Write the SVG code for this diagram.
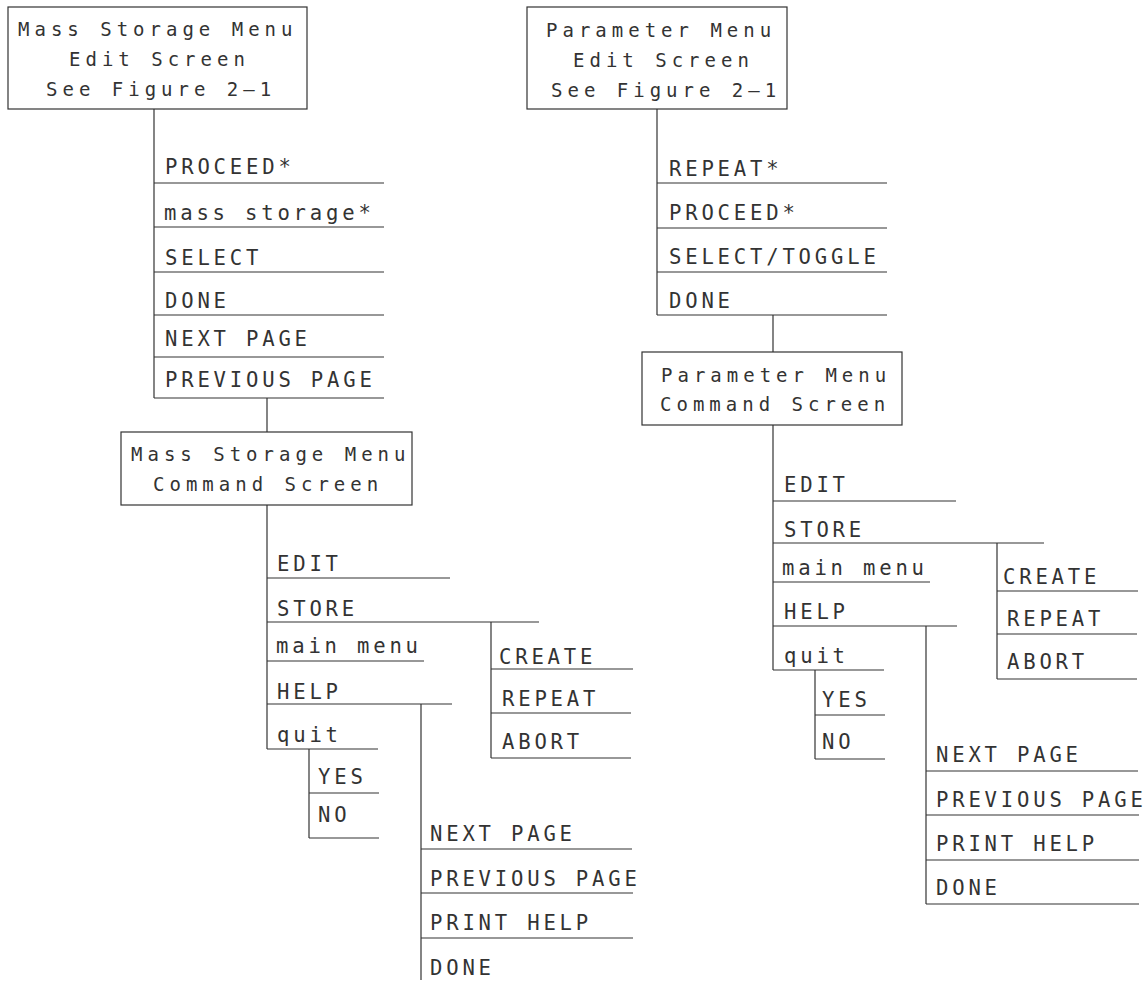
<svg xmlns="http://www.w3.org/2000/svg" width="1148" height="981" viewBox="0 0 1148 981">
<style>
rect.box{fill:none;stroke:#333;stroke-width:1.2}
line{stroke:#333;stroke-width:1.2}
text{font-family:"DejaVu Sans Mono","Liberation Mono",monospace;fill:#333}
.b{font-size:19px;letter-spacing:5px}
.m{font-size:20.6px;letter-spacing:3.8px}
</style>
<rect width="1148" height="981" fill="#fff"/>

<g id="connectors">
<line x1="154" y1="109" x2="154" y2="398"/>
<line x1="267" y1="398" x2="267" y2="432"/>
<line x1="267" y1="505" x2="267" y2="749"/>
<line x1="491" y1="622" x2="491" y2="758"/>
<line x1="309" y1="749" x2="309" y2="838"/>
<line x1="421" y1="704" x2="421" y2="980"/>
<line x1="657" y1="109" x2="657" y2="315"/>
<line x1="773" y1="315" x2="773" y2="352"/>
<line x1="773" y1="425" x2="773" y2="670"/>
<line x1="997" y1="543" x2="997" y2="679"/>
<line x1="815" y1="670" x2="815" y2="759"/>
<line x1="926" y1="626" x2="926" y2="904"/>
</g>

<g id="ms-edit-screen">
<rect class="box" x="8" y="7" width="299" height="102"/>
<text class="b" x="18" y="36">Mass Storage Menu</text>
<text class="b" x="69" y="66">Edit Screen</text>
<text class="b" x="46" y="96">See Figure 2—1</text>
</g>

<g id="ms-edit-menu">
<text class="m" x="165" y="174">PROCEED*</text><line x1="154" y1="183" x2="384" y2="183"/>
<text class="m" x="164" y="220">mass storage*</text><line x1="154" y1="227" x2="384" y2="227"/>
<text class="m" x="165" y="265">SELECT</text><line x1="154" y1="272" x2="384" y2="272"/>
<text class="m" x="165" y="308">DONE</text><line x1="154" y1="315" x2="384" y2="315"/>
<text class="m" x="165" y="346">NEXT PAGE</text><line x1="154" y1="357" x2="384" y2="357"/>
<text class="m" x="165" y="387">PREVIOUS PAGE</text><line x1="154" y1="398" x2="384" y2="398"/>
</g>

<g id="ms-command-screen">
<rect class="box" x="121" y="432" width="291" height="73"/>
<text class="b" x="131" y="461">Mass Storage Menu</text>
<text class="b" x="153" y="491">Command Screen</text>
</g>

<g id="ms-command-menu">
<text class="m" x="277" y="571">EDIT</text><line x1="267" y1="578" x2="450" y2="578"/>
<text class="m" x="277" y="616">STORE</text><line x1="267" y1="622" x2="539" y2="622"/>
<text class="m" x="276" y="653">main menu</text><line x1="267" y1="661" x2="424" y2="661"/>
<text class="m" x="277" y="699">HELP</text><line x1="267" y1="704" x2="452" y2="704"/>
<text class="m" x="277" y="742">quit</text><line x1="267" y1="749" x2="378" y2="749"/>
</g>

<g id="ms-store-menu">
<text class="m" x="499" y="664">CREATE</text><line x1="491" y1="669" x2="633" y2="669"/>
<text class="m" x="502" y="706">REPEAT</text><line x1="491" y1="713" x2="631" y2="713"/>
<text class="m" x="502" y="749">ABORT</text><line x1="491" y1="758" x2="631" y2="758"/>
</g>

<g id="ms-quit-menu">
<text class="m" x="318" y="784">YES</text><line x1="309" y1="793" x2="379" y2="793"/>
<text class="m" x="318" y="822">NO</text><line x1="309" y1="838" x2="379" y2="838"/>
</g>

<g id="ms-help-menu">
<text class="m" x="430" y="841">NEXT PAGE</text><line x1="421" y1="849" x2="632" y2="849"/>
<text class="m" x="430" y="886">PREVIOUS PAGE</text><line x1="421" y1="893" x2="633" y2="893"/>
<text class="m" x="430" y="930">PRINT HELP</text><line x1="421" y1="938" x2="633" y2="938"/>
<text class="m" x="430" y="975">DONE</text>
</g>

<g id="pm-edit-screen">
<rect class="box" x="527" y="7" width="260" height="102"/>
<text class="b" x="546" y="37">Parameter Menu</text>
<text class="b" x="573" y="67">Edit Screen</text>
<text class="b" x="551" y="97">See Figure 2—1</text>
</g>

<g id="pm-edit-menu">
<text class="m" x="669" y="176">REPEAT*</text><line x1="657" y1="183" x2="887" y2="183"/>
<text class="m" x="669" y="220">PROCEED*</text><line x1="657" y1="228" x2="887" y2="228"/>
<text class="m" x="669" y="264">SELECT/TOGGLE</text><line x1="657" y1="272" x2="887" y2="272"/>
<text class="m" x="669" y="308">DONE</text><line x1="657" y1="315" x2="887" y2="315"/>
</g>

<g id="pm-command-screen">
<rect class="box" x="642" y="352" width="260" height="73"/>
<text class="b" x="661" y="382">Parameter Menu</text>
<text class="b" x="660" y="411">Command Screen</text>
</g>

<g id="pm-command-menu">
<text class="m" x="784" y="492">EDIT</text><line x1="773" y1="501" x2="956" y2="501"/>
<text class="m" x="784" y="537">STORE</text><line x1="773" y1="543" x2="1044" y2="543"/>
<text class="m" x="782" y="575">main menu</text><line x1="773" y1="582" x2="930" y2="582"/>
<text class="m" x="784" y="619">HELP</text><line x1="773" y1="626" x2="957" y2="626"/>
<text class="m" x="784" y="663">quit</text><line x1="773" y1="670" x2="884" y2="670"/>
</g>

<g id="pm-store-menu">
<text class="m" x="1003" y="584">CREATE</text><line x1="997" y1="591" x2="1138" y2="591"/>
<text class="m" x="1007" y="626">REPEAT</text><line x1="997" y1="634" x2="1137" y2="634"/>
<text class="m" x="1007" y="669">ABORT</text><line x1="997" y1="679" x2="1137" y2="679"/>
</g>

<g id="pm-quit-menu">
<text class="m" x="822" y="707">YES</text><line x1="815" y1="715" x2="885" y2="715"/>
<text class="m" x="822" y="749">NO</text><line x1="815" y1="759" x2="885" y2="759"/>
</g>

<g id="pm-help-menu">
<text class="m" x="936" y="762">NEXT PAGE</text><line x1="926" y1="771" x2="1138" y2="771"/>
<text class="m" x="936" y="807">PREVIOUS PAGE</text><line x1="926" y1="815" x2="1139" y2="815"/>
<text class="m" x="936" y="851">PRINT HELP</text><line x1="926" y1="860" x2="1139" y2="860"/>
<text class="m" x="936" y="895">DONE</text><line x1="926" y1="904" x2="1139" y2="904"/>
</g>
</svg>
